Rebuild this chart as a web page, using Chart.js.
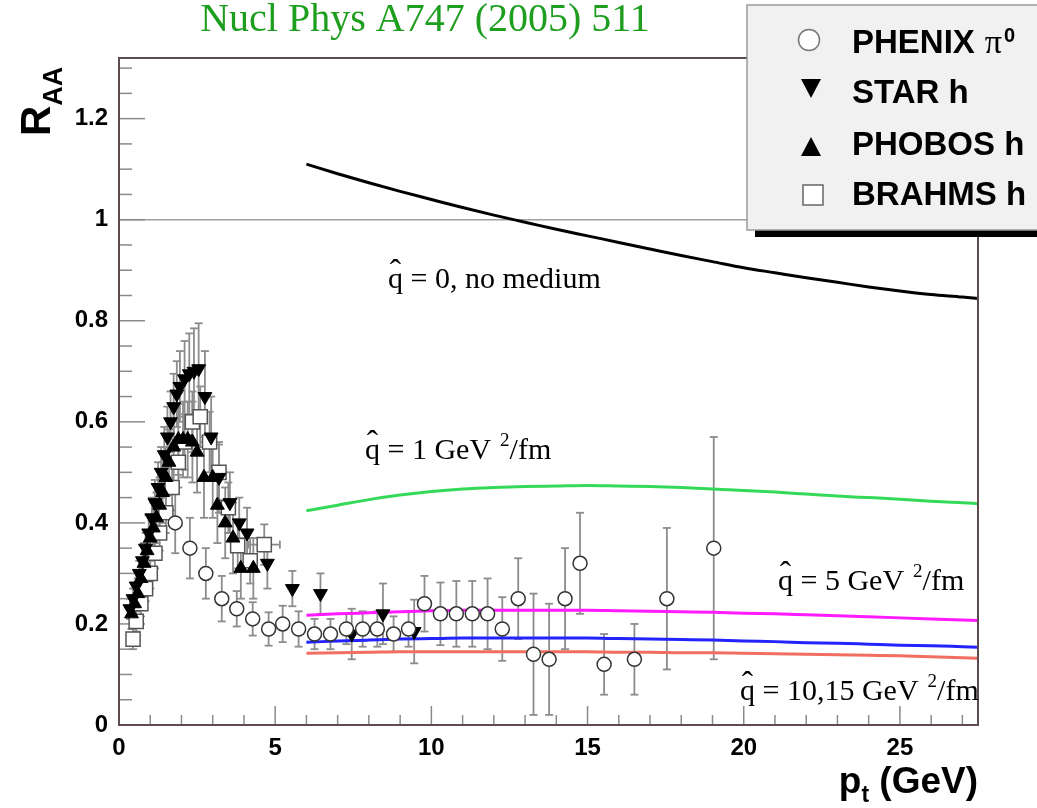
<!DOCTYPE html>
<html><head><meta charset="utf-8">
<script src="https://cdn.jsdelivr.net/npm/chart.js@4"></script>
<style>html,body{margin:0;padding:0;background:#fff}#wrap{width:1037px;height:808px;position:relative}</style>
</head><body><div id="wrap"><canvas id="c"></canvas></div>
<script>
// ---------- data ----------
const xTickVals = [0, 5, 10, 15, 20, 25];
const yTickVals = [0, 0.2, 0.4, 0.6, 0.8, 1, 1.2];

const phenixX   = [1.8, 2.27, 2.78, 3.29, 3.77, 4.28, 4.79, 5.24, 5.75, 6.26, 6.77, 7.28, 7.8, 8.27, 8.79, 9.27, 9.78, 10.29, 10.8, 11.31, 11.8, 12.27, 12.78, 13.27, 13.77, 14.28, 14.76, 15.53, 16.5, 17.54, 19.04];
const phenixY   = [0.40, 0.35, 0.30, 0.25, 0.23, 0.21, 0.19, 0.20, 0.19, 0.18, 0.18, 0.19, 0.19, 0.19, 0.18, 0.19, 0.24, 0.22, 0.22, 0.22, 0.22, 0.19, 0.25, 0.14, 0.13, 0.25, 0.32, 0.12, 0.13, 0.25, 0.35];
const phenixErr = [0.06, 0.06, 0.05, 0.045, 0.035, 0.033, 0.033, 0.036, 0.035, 0.03, 0.03, 0.03, 0.035, 0.035, 0.035, 0.035, 0.055, 0.062, 0.065, 0.065, 0.07, 0.063, 0.08, 0.12, 0.11, 0.1, 0.1, 0.06, 0.07, 0.14, 0.22];

const starX   = [0.35, 0.45, 0.55, 0.65, 0.75, 0.85, 0.95, 1.05, 1.15, 1.25, 1.35, 1.45, 1.55, 1.65, 1.75, 1.85, 1.95, 2.1, 2.25, 2.4, 2.55, 2.75, 2.95, 3.2, 3.55, 3.85, 4.1, 4.75, 5.55, 6.45, 7.45, 8.45, 9.45];
const starY   = [0.23, 0.25, 0.275, 0.30, 0.325, 0.35, 0.38, 0.41, 0.44, 0.47, 0.50, 0.535, 0.57, 0.60, 0.63, 0.655, 0.67, 0.685, 0.695, 0.70, 0.705, 0.65, 0.57, 0.49, 0.44, 0.40, 0.38, 0.32, 0.27, 0.26, 0.18, 0.22, 0.185];
const starErr = [0.02, 0.02, 0.025, 0.025, 0.03, 0.03, 0.035, 0.04, 0.045, 0.05, 0.05, 0.055, 0.06, 0.06, 0.065, 0.065, 0.07, 0.075, 0.08, 0.085, 0.09, 0.09, 0.08, 0.07, 0.06, 0.05, 0.05, 0.05, 0.035, 0.04, 0.05, 0.06, 0.063];

const phobosX   = [0.4, 0.5, 0.6, 0.7, 0.8, 0.9, 1.0, 1.1, 1.2, 1.3, 1.4, 1.5, 1.6, 1.75, 1.9, 2.05, 2.2, 2.35, 2.5, 2.72, 3.0, 3.15, 3.4, 3.65, 3.9, 4.3];
const phobosY   = [0.22, 0.24, 0.26, 0.29, 0.32, 0.345, 0.37, 0.39, 0.41, 0.435, 0.46, 0.49, 0.52, 0.55, 0.565, 0.565, 0.565, 0.56, 0.54, 0.49, 0.49, 0.435, 0.40, 0.37, 0.31, 0.31];
const phobosErr = [0.03, 0.03, 0.03, 0.035, 0.04, 0.04, 0.045, 0.05, 0.05, 0.055, 0.06, 0.06, 0.065, 0.07, 0.07, 0.075, 0.075, 0.08, 0.08, 0.08, 0.08, 0.075, 0.07, 0.07, 0.06, 0.06];

const brahmsX    = [0.45, 0.55, 0.7, 0.85, 1.0, 1.15, 1.3, 1.5, 1.7, 1.9, 2.1, 2.35, 2.6, 2.9, 3.2, 3.5, 3.8, 4.2, 4.65];
const brahmsY    = [0.17, 0.205, 0.24, 0.27, 0.30, 0.34, 0.38, 0.42, 0.47, 0.52, 0.56, 0.60, 0.61, 0.56, 0.50, 0.43, 0.355, 0.325, 0.357];
const brahmsErr  = [0.02, 0.02, 0.025, 0.025, 0.03, 0.03, 0.035, 0.04, 0.045, 0.05, 0.055, 0.06, 0.06, 0.06, 0.055, 0.05, 0.045, 0.045, 0.04];
const brahmsXErr = [0, 0, 0, 0, 0, 0, 0, 0, 0, 0, 0, 0, 0, 0, 0, 0, 0, 0, 0.5];

const curveX   = [6, 7, 8, 9, 10, 11, 12, 13, 14, 15, 16, 17, 18, 19, 20, 21, 22, 23, 24, 25, 26, 27, 27.5];
const qhat0    = [1.110, 1.091, 1.073, 1.056, 1.040, 1.024, 1.009, 0.995, 0.981, 0.968, 0.955, 0.942, 0.929, 0.917, 0.905, 0.895, 0.885, 0.876, 0.867, 0.859, 0.852, 0.847, 0.844];
const qhat1    = [0.424, 0.435, 0.446, 0.455, 0.462, 0.467, 0.470, 0.472, 0.473, 0.474, 0.473, 0.472, 0.470, 0.467, 0.464, 0.461, 0.457, 0.453, 0.450, 0.447, 0.443, 0.440, 0.438];
const qhat5    = [0.217, 0.220, 0.222, 0.224, 0.226, 0.227, 0.227, 0.227, 0.227, 0.227, 0.226, 0.225, 0.224, 0.223, 0.221, 0.220, 0.218, 0.216, 0.214, 0.212, 0.210, 0.208, 0.207];
const qhat10   = [0.164, 0.166, 0.168, 0.170, 0.171, 0.172, 0.172, 0.172, 0.172, 0.172, 0.171, 0.170, 0.169, 0.168, 0.166, 0.165, 0.163, 0.162, 0.160, 0.158, 0.157, 0.155, 0.154];
const qhat15   = [0.142, 0.143, 0.144, 0.145, 0.145, 0.145, 0.145, 0.145, 0.145, 0.145, 0.144, 0.144, 0.143, 0.143, 0.142, 0.141, 0.140, 0.139, 0.138, 0.137, 0.135, 0.133, 0.132];

const legendLabels = ['PHENIX', 'STAR h', 'PHOBOS h', 'BRAHMS h'];

// ---------- helpers ----------
const pts = (xs, ys) => xs.map((v, i) => ({ x: v, y: ys[i] }));
const SANS = '"Liberation Sans", Arial, sans-serif';
const SERIF = '"Liberation Serif", "Times New Roman", serif';

const markerSets = [
  { x: phenixX, y: phenixY, e: phenixErr, xe: null },
  { x: starX, y: starY, e: starErr, xe: null },
  { x: phobosX, y: phobosY, e: phobosErr, xe: null },
  { x: brahmsX, y: brahmsY, e: brahmsErr, xe: brahmsXErr }
];

function line(ctx, x1, y1, x2, y2) { ctx.beginPath(); ctx.moveTo(x1, y1); ctx.lineTo(x2, y2); ctx.stroke(); }

const decor = {
  id: 'decor',
  beforeDatasetsDraw(chart) {
    const { ctx, scales: { x, y } } = chart;
    const L = x.left, R = x.right, T = y.top, B = y.bottom;
    ctx.save();
    // grid line at 1
    ctx.strokeStyle = '#a0a0a0'; ctx.lineWidth = 1.5;
    const y1 = y.getPixelForValue(1);
    line(ctx, L, y1, R, y1);
    // ticks
    ctx.strokeStyle = '#8a8a8a'; ctx.lineWidth = 1.5;
    for (let v = 0; v <= 27.5 + 1e-9; v += 1) {
      const px = x.getPixelForValue(v);
      const len = (Math.round(v) % 5 === 0) ? 19 : 10;
      line(ctx, px, B, px, B - len);
    }
    for (let k = 0; k * 0.05 <= 1.32; k++) {
      const py = y.getPixelForValue(k * 0.05);
      const len = (k % 4 === 0) ? 26 : 13;
      line(ctx, L, py, L + len, py);
    }
    // error bars
    ctx.strokeStyle = '#8c8c8c'; ctx.lineWidth = 1.8;
    ctx.beginPath(); ctx.rect(L, T, R - L, B - T); ctx.clip();
    markerSets.forEach(s => {
      s.x.forEach((xv, i) => {
        const px = x.getPixelForValue(xv);
        const pt = y.getPixelForValue(s.y[i] + s.e[i]);
        const pb = y.getPixelForValue(Math.max(0, s.y[i] - s.e[i]));
        line(ctx, px, pt, px, pb);
        line(ctx, px - 4, pt, px + 4, pt);
        line(ctx, px - 4, pb, px + 4, pb);
        if (s.xe && s.xe[i] > 0) {
          const py = y.getPixelForValue(s.y[i]);
          const pl = x.getPixelForValue(xv - s.xe[i]);
          const pr = x.getPixelForValue(xv + s.xe[i]);
          line(ctx, pl, py, pr, py);
          line(ctx, pl, py - 4, pl, py + 4);
          line(ctx, pr, py - 4, pr, py + 4);
        }
      });
    });
    ctx.restore();
  },
  afterDraw(chart) {
    const { ctx, scales: { x, y } } = chart;
    const L = x.left, R = x.right, T = y.top, B = y.bottom;
    ctx.save();
    // frame
    ctx.strokeStyle = '#5e4c4c'; ctx.lineWidth = 2;
    ctx.beginPath(); ctx.rect(L, T, R - L, B - T); ctx.stroke();

    // title
    ctx.fillStyle = '#1e9e1e';
    ctx.font = '40px ' + SERIF;
    ctx.textBaseline = 'alphabetic';
    ctx.textAlign = 'center';
    ctx.fillText('Nucl Phys A747 (2005) 511', 425, 31);
    ctx.textAlign = 'left';

    // annotations
    ctx.fillStyle = '#000';
    const AF = '30px ' + SERIF;
    function qlabel(x0, base, mid, sup, tail) {
      ctx.font = AF;
      ctx.fillText('q', x0, base);
      const qw = ctx.measureText('q').width;
      ctx.textAlign = 'center';
      ctx.font = '34px ' + SERIF;
      ctx.fillText('\u02C6', x0 + qw / 2, base - 5);
      ctx.font = AF;
      ctx.textAlign = 'left';
      let cx = x0 + qw;
      ctx.fillText(mid, cx, base);
      cx += ctx.measureText(mid).width;
      if (sup) {
        ctx.font = '19px ' + SERIF;
        ctx.fillText(sup, cx + 9, base - 13);
        cx += 9 + ctx.measureText(sup).width;
        ctx.font = AF;
        ctx.fillText(tail, cx, base);
      }
    }
    qlabel(388, 288, ' = 0, no medium');
    qlabel(365, 459, ' = 1 GeV', '2', '/fm');
    qlabel(778, 590, ' = 5 GeV', '2', '/fm');
    qlabel(740, 700, ' = 10,15 GeV', '2', '/fm');

    // axis titles
    ctx.fillStyle = '#000';
    ctx.save();
    ctx.translate(50, 136);
    ctx.rotate(-Math.PI / 2);
    ctx.font = 'bold 42px ' + SANS;
    ctx.fillText('R', 0, 0);
    const rw = ctx.measureText('R').width;
    ctx.font = 'bold 27px ' + SANS;
    ctx.fillText('AA', rw, 12);
    ctx.restore();

    ctx.font = 'bold 37px ' + SANS;
    const gw = ctx.measureText(' (GeV)').width;
    ctx.fillText(' (GeV)', 978 - gw, 793);
    ctx.font = 'bold 23px ' + SANS;
    const tw = ctx.measureText('t').width;
    ctx.fillText('t', 978 - gw - tw, 802);
    ctx.font = 'bold 37px ' + SANS;
    const pw = ctx.measureText('p').width;
    ctx.fillText('p', 978 - gw - tw - pw, 793);

    // legend box
    ctx.fillStyle = '#000';
    ctx.fillRect(755, 228, 300, 9);
    ctx.fillStyle = '#f1f1f1';
    ctx.fillRect(747, 5, 310, 225);
    ctx.strokeStyle = '#9a9a9a'; ctx.lineWidth = 1.5;
    ctx.strokeRect(747, 5, 310, 225);

    // legend markers
    ctx.lineWidth = 1.5;
    ctx.strokeStyle = '#777';
    ctx.beginPath(); ctx.arc(809, 40, 10.5, 0, Math.PI * 2); ctx.fillStyle = '#fff'; ctx.fill(); ctx.stroke();
    ctx.fillStyle = '#000';
    ctx.beginPath(); ctx.moveTo(801, 79); ctx.lineTo(821, 79); ctx.lineTo(811, 98); ctx.closePath(); ctx.fill();
    ctx.beginPath(); ctx.moveTo(811, 137); ctx.lineTo(821, 156); ctx.lineTo(801, 156); ctx.closePath(); ctx.fill();
    ctx.fillStyle = '#fff'; ctx.strokeStyle = '#666';
    ctx.fillRect(803, 185, 20, 20); ctx.strokeRect(803, 185, 20, 20);

    // legend text
    ctx.fillStyle = '#000';
    ctx.font = 'bold 33px ' + SANS;
    ctx.fillText(legendLabels[0], 852, 53);
    let lx = 852 + ctx.measureText(legendLabels[0]).width + 10;
    ctx.font = '34px ' + SERIF;
    ctx.fillText('\u03C0', lx, 53);
    lx += ctx.measureText('\u03C0').width + 2;
    ctx.font = 'bold 20px ' + SANS;
    ctx.fillText('0', lx, 42);
    ctx.font = 'bold 33px ' + SANS;
    ctx.fillText(legendLabels[1], 852, 103);
    ctx.fillText(legendLabels[2], 852, 155);
    ctx.fillText(legendLabels[3], 852, 205);
    ctx.restore();
  }
};

const curveStyle = (data, color) => ({
  type: 'line', data: pts(curveX, data), borderColor: color, borderWidth: 3,
  pointRadius: 0, fill: false, cubicInterpolationMode: 'monotone', order: 10
});

new Chart(document.getElementById('c'), {
  type: 'scatter',
  data: {
    datasets: [
      curveStyle(qhat0, '#000000'),
      curveStyle(qhat1, '#35d95a'),
      curveStyle(qhat5, '#ff1aff'),
      curveStyle(qhat10, '#2323ff'),
      curveStyle(qhat15, '#f26e60'),
      { label: 'BRAHMS h', data: pts(brahmsX, brahmsY), pointStyle: 'rect', pointRadius: 10, borderColor: '#555', backgroundColor: '#fff', borderWidth: 1.5, order: 4 },
      { label: 'PHOBOS h', data: pts(phobosX, phobosY), pointStyle: 'triangle', pointRadius: 8, borderColor: '#000', backgroundColor: '#000', borderWidth: 1, order: 3 },
      { label: 'STAR h', data: pts(starX, starY), pointStyle: 'triangle', rotation: 180, pointRadius: 8, borderColor: '#000', backgroundColor: '#000', borderWidth: 1, order: 2 },
      { label: 'PHENIX', data: pts(phenixX, phenixY), pointStyle: 'circle', pointRadius: 7, borderColor: '#333', backgroundColor: '#fff', borderWidth: 1.5, order: 1 }
    ]
  },
  options: {
    responsive: true, maintainAspectRatio: false, animation: false,
    layout: { padding: { top: 58, right: 59, left: 0, bottom: 0 } },
    plugins: { legend: { display: false }, tooltip: { enabled: false }, title: { display: false } },
    scales: {
      x: {
        type: 'linear', min: 0, max: 27.5,
        grid: { display: false, drawTicks: false }, border: { display: false },
        afterBuildTicks: s => { s.ticks = xTickVals.map(v => ({ value: v })); },
        afterFit: s => { s.height = 83; },
        ticks: { padding: 9, autoSkip: false, maxRotation: 0, color: '#000', font: { family: 'Liberation Sans', weight: 'bold', size: 24 } }
      },
      y: {
        type: 'linear', min: 0, max: 1.32,
        grid: { display: false, drawTicks: false }, border: { display: false },
        afterBuildTicks: s => { s.ticks = yTickVals.map(v => ({ value: v })); },
        afterFit: s => { s.width = 119; },
        ticks: { padding: 11, autoSkip: false, color: '#000', font: { family: 'Liberation Sans', weight: 'bold', size: 24 },
          callback: v => String(Math.round(v * 10) / 10) }
      }
    }
  },
  plugins: [decor]
});
</script></body></html>
